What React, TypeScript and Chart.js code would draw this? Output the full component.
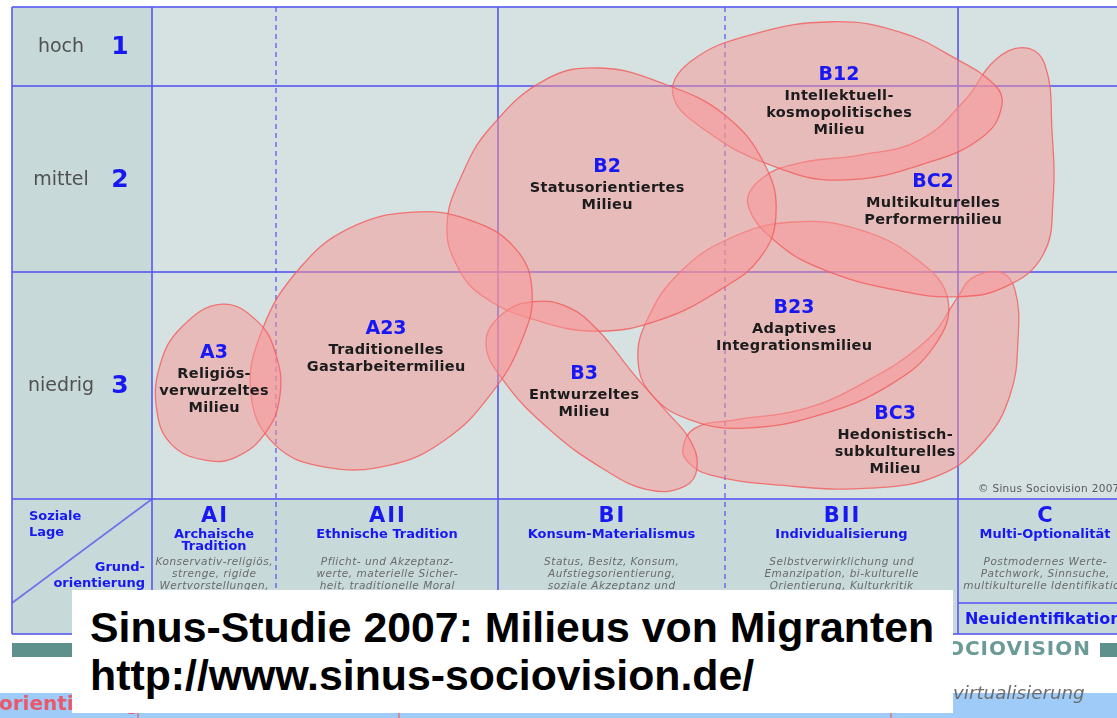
import React, { useEffect, useRef } from "react";
import { Chart, registerables } from "chart.js";

Chart.register(...registerables);

// ---- Grid (data units: x 0..100 across the Grundorientierung columns, y 0..100 up the Soziale Lage rows)
const columnCodes = ["AI", "AII", "BI", "BII", "C"];
const columnTitles = [["Archaische", "Tradition"], ["Ethnische Tradition"], ["Konsum-Materialismus"], ["Individualisierung"], ["Multi-Optionalität"]];
const columnDescriptions = [
  ["Konservativ-religiös,", "strenge, rigide", "Wertvorstellungen,"],
  ["Pflicht- und Akzeptanz-", "werte, materielle Sicher-", "heit, traditionelle Moral"],
  ["Status, Besitz, Konsum,", "Aufstiegsorientierung,", "soziale Akzeptanz und"],
  ["Selbstverwirklichung und", "Emanzipation, bi-kulturelle", "Orientierung, Kulturkritik"],
  ["Postmodernes Werte-", "Patchwork, Sinnsuche,", "multikulturelle Identifikation"],
];
const columnBounds = [0, 12.85, 35.85, 59.38, 83.52, 101.56];
const columnDividers = ["solid", "dashed", "solid", "dashed", "solid"];
const rowLabels = ["niedrig", "mittel", "hoch"];
const rowNumbers = ["3", "2", "1"];
const rowBounds = [0, 46.14, 83.94, 100];

// ---- Milieus
const milieuCodes = ["A3", "A23", "B3", "B2", "B12", "BC2", "B23", "BC3"];
const milieuNames = [
  ["Religiös-", "verwurzeltes", "Milieu"],
  ["Traditionelles", "Gastarbeitermilieu"],
  ["Entwurzeltes", "Milieu"],
  ["Statusorientiertes", "Milieu"],
  ["Intellektuell-", "kosmopolitisches", "Milieu"],
  ["Multikulturelles", "Performermilieu"],
  ["Adaptives", "Integrationsmilieu"],
  ["Hedonistisch-", "subkulturelles", "Milieu"],
];
const milieuLabelX = [6.42, 24.25, 44.77, 47.15, 71.19, 80.93, 66.53, 77.0];
const milieuLabelY = [29.67, 34.55, 25.41, 67.48, 86.18, 64.43, 38.82, 17.28];

const outlineA3 = [[7.25, 39.6], [10.98, 36.0], [12.85, 29.3], [13.26, 21.1], [11.81, 13.6], [8.7, 8.5], [5.49, 7.9], [2.07, 11.0], [0.52, 17.7], [0.83, 27.2], [3.11, 35.0]];
const outlineA23 = [[27.05, 58.3], [32.95, 56.7], [37.62, 51.0], [39.38, 42.5], [38.34, 32.3], [35.03, 21.1], [30.36, 12.0], [24.66, 6.9], [17.93, 6.5], [12.75, 11.0], [10.26, 21.1], [11.4, 34.3], [15.34, 47.0], [20.52, 55.1]];
const outlineB3 = [[39.5, 40.1], [43.1, 39.0], [46.22, 34.3], [49.74, 25.8], [53.16, 18.1], [55.75, 12.0], [56.48, 6.3], [55.23, 2.6], [51.61, 1.8], [46.94, 5.9], [41.04, 14.4], [36.37, 24.2], [34.61, 31.7], [36.3, 37.6]];
const outlineB2 = [[46.42, 87.6], [53.16, 84.3], [59.38, 78.0], [63.52, 67.9], [64.66, 57.7], [63.01, 49.0], [58.86, 42.5], [52.64, 36.4], [46.11, 34.1], [39.69, 36.4], [34.51, 40.9], [31.71, 47.0], [30.57, 55.7], [32.12, 65.9], [35.03, 75.4], [40.73, 85.2]];
const outlineB12 = [[70.57, 97.0], [77.51, 94.9], [83.21, 89.6], [87.36, 84.1], [88.08, 80.1], [86.32, 74.0], [80.62, 68.5], [71.3, 64.8], [64.04, 67.9], [57.31, 75.0], [53.99, 82.1], [55.75, 88.8], [61.97, 94.3]];
const outlineBC2 = [[61.76, 59.8], [63.21, 65.2], [67.15, 68.3], [73.37, 69.9], [79.59, 73.0], [84.25, 81.1], [87.36, 89.2], [90.47, 91.7], [92.54, 88.2], [93.26, 75.0], [93.37, 60.8], [92.33, 49.6], [88.39, 43.1], [83.21, 41.1], [77.0, 42.5], [70.26, 46.1], [65.08, 51.6]];
const outlineB23 = [[66.42, 56.3], [73.37, 54.7], [79.59, 48.2], [82.49, 40.4], [81.14, 31.3], [76.48, 23.2], [69.22, 17.1], [61.45, 14.4], [55.75, 16.1], [51.81, 21.1], [50.36, 28.3], [51.4, 36.8], [54.72, 46.1], [59.9, 53.0]];
const outlineBC3 = [[55.03, 10.4], [56.27, 14.4], [60.41, 16.1], [67.15, 18.1], [73.37, 23.2], [80.31, 32.3], [83.52, 41.1], [84.97, 44.9], [87.88, 46.1], [89.43, 42.5], [89.74, 32.3], [88.91, 21.1], [86.32, 12.0], [81.66, 4.9], [74.4, 2.2], [65.08, 2.8], [57.82, 4.9], [55.54, 7.5]];
const milieuOutlines = [outlineA3, outlineA23, outlineB3, outlineB2, outlineB12, outlineBC2, outlineB23, outlineBC3];

const FONT = "'DejaVu Sans', Verdana, sans-serif";
const BLUE = "#1818f2";
const LINE = "rgba(88, 88, 240, 0.8)";
const TEAL = "#5f918c";

function drawText(ctx: any, text: string, x: number, y: number, font: string, color: string, align = "center", spacing = 0, baseline = "middle") {
  ctx.font = font;
  ctx.fillStyle = color;
  ctx.textAlign = align;
  ctx.textBaseline = baseline;
  ctx.letterSpacing = spacing + "px";
  const dx = align === "center" ? spacing / 2 : 0;
  ctx.fillText(text, x + dx, y);
  ctx.letterSpacing = "0px";
}

const gridPlugin = {
  id: "sinusGrid",
  beforeDraw(chart: any) {
    const { ctx, chartArea: a, scales } = chart;
    const xs = scales.x;
    const ys = scales.y;
    const W = chart.width;
    const H = chart.height;
    const left = a.left - 140;
    const headerBottom = a.bottom + 135;
    const cSplit = a.bottom + 104;
    ctx.save();
    ctx.fillStyle = "#ffffff";
    ctx.fillRect(0, 0, W, H);
    ctx.fillStyle = "#c7d9d9";
    ctx.fillRect(left, a.top, W - left, headerBottom - a.top);
    ctx.fillStyle = "#d6e2e2";
    ctx.fillRect(a.left, a.top, a.right - a.left, a.bottom - a.top);

    const seg = (x0: number, y0: number, x1: number, y1: number) => {
      ctx.beginPath();
      ctx.moveTo(x0, y0);
      ctx.lineTo(x1, y1);
      ctx.stroke();
    };
    ctx.strokeStyle = LINE;
    ctx.lineWidth = 2;
    ctx.setLineDash([]);
    rowBounds.forEach((v) => {
      const y = Math.round(ys.getPixelForValue(v));
      seg(left, y, W, y);
    });
    seg(left, headerBottom, W, headerBottom);
    seg(left, a.top, left, headerBottom);
    columnBounds.forEach((v, i) => {
      if (columnDividers[i] === "solid") {
        const x = Math.round(xs.getPixelForValue(v));
        seg(x, a.top, x, headerBottom);
      }
    });
    seg(Math.round(xs.getPixelForValue(columnBounds[4])), cSplit, W, cSplit);
    ctx.lineWidth = 1.6;
    seg(left, cSplit, a.left, a.bottom);
    ctx.setLineDash([5, 4]);
    columnBounds.forEach((v, i) => {
      if (columnDividers[i] === "dashed") {
        const x = Math.round(xs.getPixelForValue(v));
        seg(x, a.top, x, headerBottom);
      }
    });
    ctx.setLineDash([]);

    // row labels
    rowLabels.forEach((lab, i) => {
      const yc = ys.getPixelForValue((rowBounds[i] + rowBounds[i + 1]) / 2) + 1;
      drawText(ctx, lab, left + 49, yc, `19px ${FONT}`, "#505050");
      drawText(ctx, rowNumbers[i], left + 108, yc, `bold 25px ${FONT}`, BLUE);
    });

    // header corner
    drawText(ctx, "Soziale", left + 17, a.bottom + 18, `bold 13px ${FONT}`, BLUE, "left");
    drawText(ctx, "Lage", left + 17, a.bottom + 34, `bold 13px ${FONT}`, BLUE, "left");
    drawText(ctx, "Grund-", a.left - 7, a.bottom + 69, `bold 13px ${FONT}`, BLUE, "right");
    drawText(ctx, "orientierung", a.left - 7, a.bottom + 85, `bold 13px ${FONT}`, BLUE, "right");

    // column headers
    columnCodes.forEach((code, i) => {
      const cx = xs.getPixelForValue((columnBounds[i] + columnBounds[i + 1]) / 2);
      drawText(ctx, code, cx, a.bottom + 18, `bold 21px ${FONT}`, BLUE, "center", 2);
      columnTitles[i].forEach((t, j) => drawText(ctx, t, cx, a.bottom + 36 + j * 12, `bold 13px ${FONT}`, BLUE));
      columnDescriptions[i].forEach((t, j) => drawText(ctx, t, cx, a.bottom + 63 + j * 12, `italic 10.5px ${FONT}`, "#6a6a6a", "center", 0.5));
    });
    drawText(ctx, "Neuidentifikation", xs.getPixelForValue(columnBounds[4]) + 7, a.bottom + 121, `bold 16px ${FONT}`, BLUE, "left");

    // footer decorations
    ctx.fillStyle = TEAL;
    ctx.fillRect(left, 643, 600, 14);
    ctx.fillRect(1100, 643, 17, 14);
    drawText(ctx, "SINUS SOCIOVISION", 1091, 650, `bold 20px ${FONT}`, "#6b9b96", "right", 1);
    ctx.fillStyle = "#9ecbf7";
    ctx.fillRect(0, 693, W, H - 693);
    drawText(ctx, "orientierung", -1, 710, `bold 20px ${FONT}`, "#e8596a", "left", 0, "alphabetic");
    drawText(ctx, "virtualisierung", 953, 699, `italic 18.3px ${FONT}`, "#6d6d6d", "left", 0, "alphabetic");
    ctx.strokeStyle = "rgba(230, 110, 110, 0.9)";
    ctx.lineWidth = 1.5;
    [138, 399, 891].forEach((x) => seg(x, 700, x, H));
    ctx.restore();
  },
};

const blobPlugin = {
  id: "milieuBlobs",
  afterDatasetUpdate(chart: any, args: any) {
    const line = args.meta.dataset;
    if (line) {
      line._loop = true;
      line._fullLoop = true;
      line._pointsUpdated = false;
      delete line._segments;
      line._path = undefined;
    }
  },
  beforeDatasetDraw(chart: any, args: any) {
    const line = args.meta.dataset;
    if (!line) return;
    const ctx = chart.ctx;
    line.updateControlPoints(chart.chartArea, "x");
    ctx.save();
    ctx.beginPath();
    line.path(ctx);
    ctx.closePath();
    ctx.fillStyle = chart.data.datasets[args.index].backgroundColor;
    ctx.fill();
    ctx.restore();
  },
  afterDatasetsDraw(chart: any) {
    const { ctx, chartArea: a, scales } = chart;
    ctx.save();
    milieuCodes.forEach((code, i) => {
      const x = scales.x.getPixelForValue(milieuLabelX[i]);
      const y = scales.y.getPixelForValue(milieuLabelY[i]);
      drawText(ctx, code, x, y, `bold 19px ${FONT}`, BLUE);
      milieuNames[i].forEach((t, j) => drawText(ctx, t, x, y + 21 + j * 17, `bold 14.5px ${FONT}`, "#1c1c1c", "center", 0.3));
    });
    drawText(ctx, "© Sinus Sociovision 2007", a.right - 139, a.bottom - 10, `10.5px ${FONT}`, "#5a5a5a", "left", 0.3);
    ctx.restore();
  },
};

export default function App() {
  const canvasRef = useRef<HTMLCanvasElement | null>(null);

  useEffect(() => {
    const canvas = canvasRef.current;
    if (!canvas) return;
    const chart = new Chart(canvas, {
      type: "line",
      data: {
        datasets: milieuOutlines.map((pts, i) => ({
          label: milieuCodes[i],
          data: pts.map(([x, y]) => ({ x, y })),
          showLine: true,
          tension: 0.42,
          borderColor: "rgba(242, 92, 92, 0.8)",
          borderWidth: 1.3,
          backgroundColor: "rgba(250, 148, 148, 0.5)",
          pointRadius: 0,
          pointHoverRadius: 0,
          fill: false,
        })),
      },
      options: {
        responsive: false,
        animation: false,
        events: [],
        layout: { padding: { left: 152, top: 7, right: 0, bottom: 219 } },
        scales: {
          x: { type: "linear", min: 0, max: 100, display: false },
          y: { type: "linear", min: 0, max: 100, display: false },
        },
        elements: { line: { capBezierPoints: false }, point: { radius: 0 } },
        plugins: { legend: { display: false }, tooltip: { enabled: false }, title: { display: false } },
      },
      plugins: [gridPlugin, blobPlugin],
    } as any);
    return () => chart.destroy();
  }, []);

  return (
    <div style={{ position: "fixed", left: 0, top: 0, width: 1117, height: 718, overflow: "hidden", background: "#fff" }}>
      <canvas ref={canvasRef} width={1117} height={718} style={{ display: "block" }} />
      <div
        style={{
          position: "absolute",
          left: 72,
          top: 590,
          width: 881,
          height: 123,
          background: "#ffffff",
          boxSizing: "border-box",
          padding: "13px 0 0 18px",
          font: "bold 42.8px 'Liberation Sans', Arial, sans-serif",
          lineHeight: "48px",
          color: "#000",
          whiteSpace: "nowrap",
        }}
      >
        <div>Sinus-Studie 2007: Milieus von Migranten</div>
        <div>http://www.sinus-sociovision.de/</div>
      </div>
    </div>
  );
}
